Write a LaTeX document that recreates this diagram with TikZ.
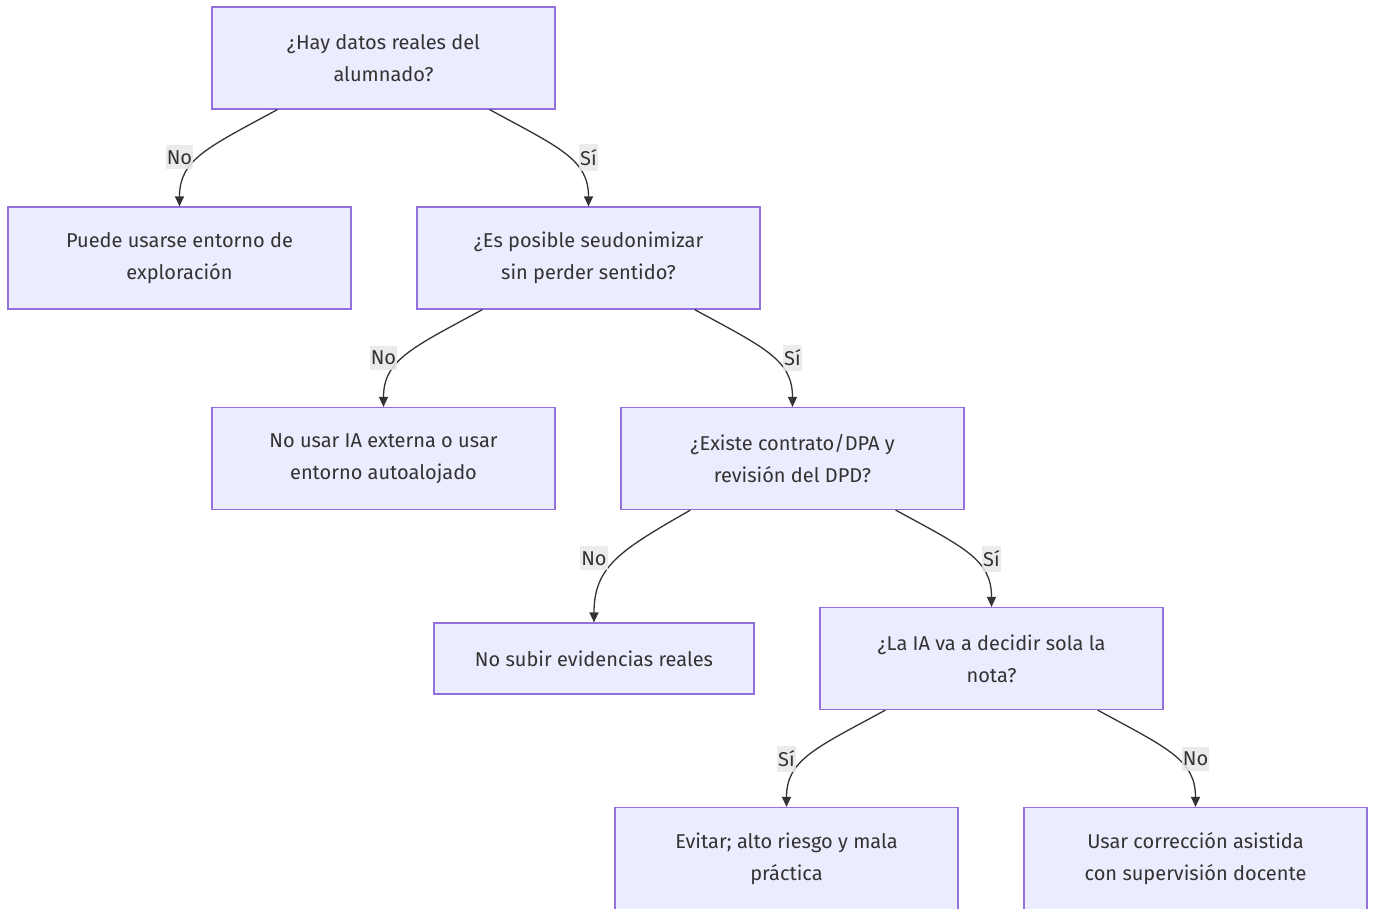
\documentclass[tikz,border=0pt]{standalone}
\usepackage{fontspec}
\setmainfont{Fira Sans}
\usetikzlibrary{arrows.meta}
\definecolor{nodefill}{HTML}{ECECFF}
\definecolor{nodeline}{HTML}{9370DB}
\definecolor{txt}{HTML}{333333}
\definecolor{lblbg}{HTML}{E8E8E8}
\tikzset{
  box/.style={draw=nodeline, fill=nodefill, line width=1.2pt, minimum width=343pt, minimum height=102pt,
    text=txt, align=center, font=\fontsize{20}{32}\selectfont, inner sep=0pt},
  conn/.style={draw=txt, line width=1.3pt, -{Triangle[length=10pt,width=9pt]}},
  lbl/.style={fill=lblbg, fill opacity=0.85, text opacity=1, text=txt, font=\fontsize{20}{22}\selectfont,
    inner xsep=1pt, inner ysep=5pt}
}
\begin{document}
\begin{tikzpicture}[x=1pt,y=-1pt]
\useasboundingbox (0,0) rectangle (1373,908);
\begin{scope}
\clip (0,0) rectangle (1373,908);
\node[box] (A) at (383.5,58) {¿Hay datos reales del\\alumnado?};
\node[box] (B) at (179.5,258) {Puede usarse entorno de\\exploración};
\node[box] (C) at (588.5,258) {¿Es posible seudonimizar\\sin perder sentido?};
\node[box] (D) at (383.5,458.5) {No usar IA externa o usar\\entorno autoalojado};
\node[box] (E) at (792.5,458.5) {¿Existe contrato/DPA y\\revisión del DPD?};
\node[box, minimum width=320pt, minimum height=71pt] (F) at (594,658.5) {No subir evidencias reales};
\node[box] (G) at (991.5,658.5) {¿La IA va a decidir sola la\\nota?};
\node[box] (H) at (786.5,858.5) {Evitar; alto riesgo y mala\\práctica};
\node[box] (I) at (1195.5,858.5) {Usar corrección asistida\\con supervisión docente};

\draw[conn] ([xshift=66pt]A.south west) .. controls +(-70,38) and +(0,-47) .. (B.north);
\draw[conn] ([xshift=-66pt]A.south east) .. controls +(70,38) and +(0,-47) .. (C.north);
\draw[conn] ([xshift=66pt]C.south west) .. controls +(-70,38) and +(0,-47) .. (D.north);
\draw[conn] ([xshift=-66pt]C.south east) .. controls +(70,38) and +(0,-47) .. (E.north);
\draw[conn] ([xshift=70pt]E.south west) .. controls +(-70,40) and +(0,-56) .. (F.north);
\draw[conn] ([xshift=-69pt]E.south east) .. controls +(70,38) and +(0,-47) .. (G.north);
\draw[conn] ([xshift=66pt]G.south west) .. controls +(-70,38) and +(0,-47) .. (H.north);
\draw[conn] ([xshift=-66pt]G.south east) .. controls +(70,38) and +(0,-47) .. (I.north);

\node[lbl] (l1) at ([yshift=49pt]B.north) {No};
\node[lbl] (l2) at ([yshift=49pt]C.north) {Sí};
\node[lbl] (l3) at ([yshift=49pt]D.north) {No};
\node[lbl] (l4) at ([yshift=49pt]E.north) {Sí};
\node[lbl] (l5) at ([yshift=64pt]F.north) {No};
\node[lbl] (l6) at ([yshift=48pt]G.north) {Sí};
\node[lbl] (l7) at ([yshift=48pt]H.north) {Sí};
\node[lbl] (l8) at ([yshift=48pt]I.north) {No};
\end{scope}
\end{tikzpicture}
\end{document}
